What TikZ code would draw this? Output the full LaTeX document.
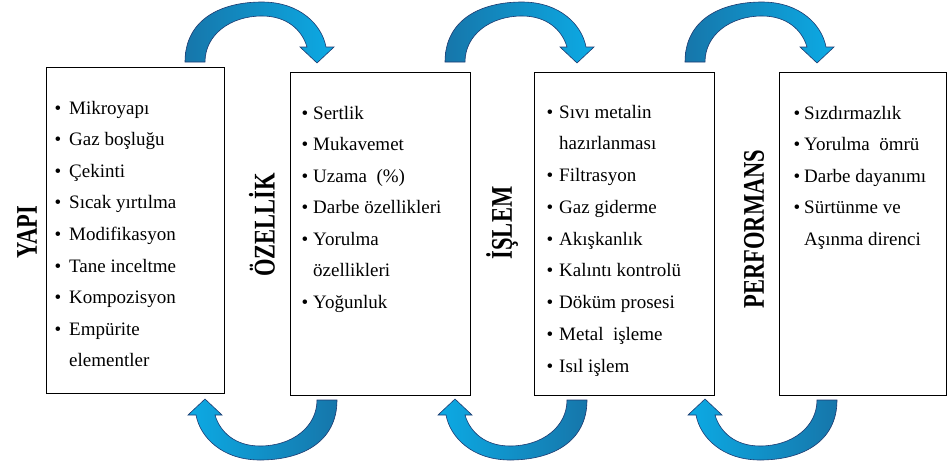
\documentclass[tikz,border=0pt]{standalone}
\usepackage{fontspec}
\setmainfont{Liberation Serif}
\definecolor{arrdark}{RGB}{22,118,170}
\definecolor{arrbright}{RGB}{12,170,228}
\definecolor{arredge}{RGB}{30,58,112}
\tikzset{
  box/.style={draw=black, line width=0.8pt},
  item/.style={anchor=base west, inner sep=0pt, font=\fontsize{19}{19}\selectfont},
  bul/.style={anchor=base, inner sep=0pt, font=\fontsize{19}{19}\selectfont},
  side/.style={rotate=90, inner sep=0pt, font=\bfseries\fontsize{30}{30}\selectfont},
  arrshape/.style={draw=arredge, line width=0.6pt},
  curvearrow/.pic={
    \path[arrshape, pic actions]
      (-77,0) .. controls (-77,-42) and (-42,-60) .. (0,-60)
      .. controls (38,-60) and (60,-37) .. (64,-15)
      -- (72,-15) -- (55,1) -- (38,-15) -- (45,-15)
      .. controls (40,-32) and (25,-46) .. (0,-46)
      .. controls (-32,-46) and (-57,-27) .. (-57,0) -- cycle;
  }
}
\begin{document}
\begin{tikzpicture}[x=1pt,y=-1pt]
\useasboundingbox (0,0) rectangle (949,466);
% boxes
\node[box, inner sep=0pt, minimum width=178pt, minimum height=326pt, anchor=north west] (b1) at (46,67) {};
\node[box, inner sep=0pt, minimum width=180pt, minimum height=323pt, anchor=north west] (b2) at (290,72) {};
\node[box, inner sep=0pt, minimum width=180pt, minimum height=323pt, anchor=north west] (b3) at (534,72) {};
\node[box, inner sep=0pt, minimum width=167pt, minimum height=323pt, anchor=north west] (b4) at (779,72) {};
% side labels
\node[side] (l1) at (27,232) {\scalebox{0.75}[1]{YAPI}};
\node[side] (l2) at (262,225) {\scalebox{0.75}[1]{ÖZELLİK}};
\node[side] (l3) at (502,223) {\scalebox{0.75}[1]{İŞLEM}};
\node[side] (l4) at (754,229) {\scalebox{0.75}[1]{PERFORMANS}};
% box 1 items
\foreach \t/\b [count=\i] in {Mikroyapı/1, Gaz boşluğu/1, Çekinti/1, Sıcak yırtılma/1, Modifikasyon/1, Tane inceltme/1, Kompozisyon/1, Empürite/1, elementler/0}{
  \pgfmathsetmacro{\yy}{114+31.6*(\i-1)}
  \node[item] (a\i) at (69,\yy) {\t};
  \ifnum\b=1 \node[bul] (ab\i) at (58,\yy) {•};\fi
}
% box 2 items
\foreach \t/\b [count=\i] in {Sertlik/1, Mukavemet/1, Uzama\ \ (\%)/1, Darbe özellikleri/1, Yorulma/1, özellikleri/0, Yoğunluk/1}{
  \pgfmathsetmacro{\yy}{119+31.5*(\i-1)}
  \node[item] (c\i) at (313,\yy) {\t};
  \ifnum\b=1 \node[bul] (cb\i) at (305,\yy) {•};\fi
}
% box 3 items
\foreach \t/\b [count=\i] in {Sıvı metalin/1, hazırlanması/0, Filtrasyon/1, Gaz giderme/1, Akışkanlık/1, Kalıntı kontrolü/1, Döküm prosesi/1, Metal\ \ işleme/1, Isıl işlem/1}{
  \pgfmathsetmacro{\yy}{118+31.75*(\i-1)}
  \node[item] (d\i) at (559,\yy) {\t};
  \ifnum\b=1 \node[bul] (db\i) at (550,\yy) {•};\fi
}
% box 4 items
\foreach \t/\b [count=\i] in {Sızdırmazlık/1, Yorulma\ \ ömrü/1, Darbe dayanımı/1, Sürtünme ve/1, Aşınma direnci/0}{
  \pgfmathsetmacro{\yy}{119+31.5*(\i-1)}
  \node[item] (e\i) at (804,\yy) {\t};
  \ifnum\b=1 \node[bul] (eb\i) at (797,\yy) {•};\fi
}
% curved arrows (top)
\pic[left color=arrdark, right color=arrbright] (t1) at (262,62) {curvearrow};
\pic[left color=arrdark, right color=arrbright] (t2) at (522,62) {curvearrow};
\pic[left color=arrdark, right color=arrbright] (t3) at (762,62) {curvearrow};
% curved arrows (bottom): bright head on the left, darker tail on the right
\pic[rotate=180, left color=arrbright, right color=arrdark] (u1) at (260,400) {curvearrow};
\pic[rotate=180, left color=arrbright, right color=arrdark] (u2) at (510,400) {curvearrow};
\pic[rotate=180, left color=arrbright, right color=arrdark] (u3) at (760,400) {curvearrow};
\end{tikzpicture}
\end{document}
